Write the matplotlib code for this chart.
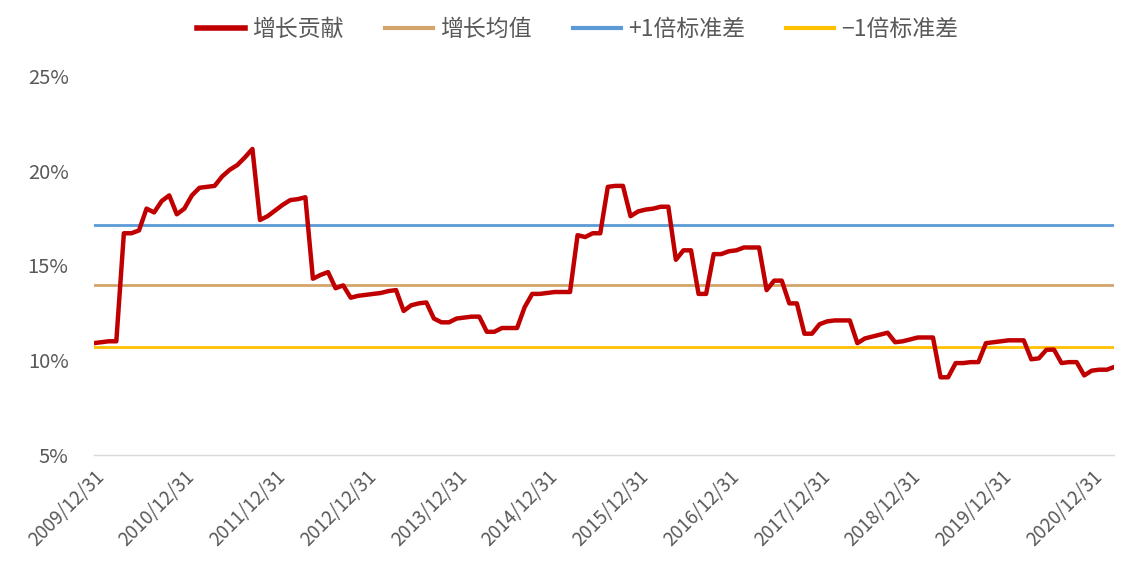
import matplotlib
matplotlib.use("Agg")
import matplotlib.pyplot as plt
import pandas as pd
import numpy as np

plt.rcParams['font.family'] = ['Noto Sans CJK SC', 'DejaVu Sans']

# monthly dates from 2009/12/31
dates = pd.date_range("2009-12-31", periods=136, freq="ME")
growth = [
    10.9, 10.95, 11.0, 11.0, 16.7, 16.7, 16.85, 18.0, 17.8, 18.4,
    18.7, 17.7, 18.0, 18.7, 19.1, 19.15, 19.2, 19.7, 20.05, 20.3,
    20.7, 21.15, 17.4, 17.6, 17.9, 18.2, 18.45, 18.5, 18.6, 14.3,
    14.5, 14.65, 13.8, 13.95, 13.3, 13.4, 13.45, 13.5, 13.55, 13.65,
    13.7, 12.6, 12.9, 13.0, 13.05, 12.2, 12.0, 12.0, 12.2, 12.25,
    12.3, 12.3, 11.5, 11.5, 11.7, 11.7, 11.7, 12.8, 13.5, 13.5,
    13.55, 13.6, 13.6, 13.6, 16.6, 16.5, 16.7, 16.7, 19.15, 19.2,
    19.2, 17.6, 17.85, 17.95, 18.0, 18.1, 18.1, 15.3, 15.8, 15.8,
    13.5, 13.5, 15.6, 15.6, 15.75, 15.8, 15.95, 15.95, 15.95, 13.7,
    14.2, 14.2, 13.0, 13.0, 11.4, 11.4, 11.9, 12.05, 12.1, 12.1,
    12.1, 10.9, 11.15, 11.25, 11.35, 11.45, 10.95, 11.0, 11.1, 11.2,
    11.2, 11.2, 9.1, 9.1, 9.85, 9.85, 9.9, 9.9, 10.9, 10.95,
    11.0, 11.05, 11.05, 11.05, 10.05, 10.1, 10.55, 10.56, 9.85, 9.9,
    9.9, 9.2, 9.45, 9.5, 9.5, 9.65,
]
mean_val = 13.95
plus_std = 17.16
minus_std = 10.68

series_names = ["增长贡献", "增长均值", "+1倍标准差", "\u22121倍标准差"]
colors = ["#C00000", "#D4A56A", "#5B9BD5", "#FFC000"]

tick_idx = [i for i, d in enumerate(dates) if d.month == 12]
tick_labels = [dates[i].strftime("%Y/%m/%d") for i in tick_idx]
yticks = [5, 10, 15, 20, 25]

fig = plt.figure(figsize=(11.28, 5.70), dpi=100)
ax = fig.add_axes([0.083, 0.2018, 0.905, 0.6649])

x = np.arange(len(growth))
ax.plot(x, growth, color=colors[0], lw=3.2, label=series_names[0], zorder=5,
        solid_joinstyle='round')
ax.plot(x, [mean_val] * len(x), color=colors[1], lw=2.0, label=series_names[1])
ax.plot(x, [plus_std] * len(x), color=colors[2], lw=2.0, label=series_names[2])
ax.plot(x, [minus_std] * len(x), color=colors[3], lw=2.0, label=series_names[3])

ax.set_xlim(0, len(growth) - 1)
ax.set_ylim(5, 25)
ax.set_yticks(yticks)
ax.set_yticklabels([f"{v}%" for v in yticks], fontsize=14.5, color="#595959")
ax.set_xticks(tick_idx)
ax.set_xticklabels(tick_labels, rotation=45, ha='right', va='top',
                   rotation_mode='anchor', fontsize=13.5, color="#595959")
ax.tick_params(axis='both', length=0)
ax.tick_params(axis='y', pad=18)
ax.tick_params(axis='x', pad=8)

for s in ['top', 'right', 'left']:
    ax.spines[s].set_visible(False)
ax.spines['bottom'].set_color('#D9D9D9')
ax.spines['bottom'].set_linewidth(1.0)

leg = fig.legend(loc='center', bbox_to_anchor=(0.512, 0.948), ncol=4, frameon=False,
                 fontsize=16.5, handlelength=2.1, handletextpad=0.3,
                 columnspacing=1.8)
for t in leg.get_texts():
    t.set_color("#595959")
for h in leg.get_lines():
    h.set_linewidth(4 if h.get_label() == series_names[0] else 3)

fig.savefig("out.png", dpi=100)
